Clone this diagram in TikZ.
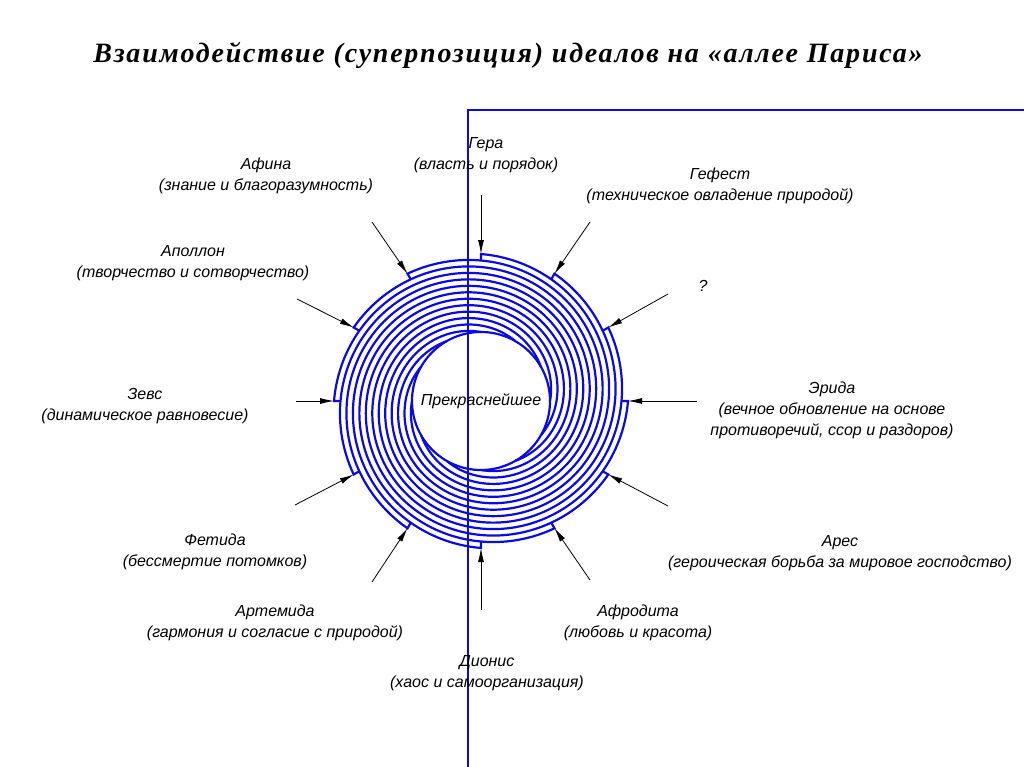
\documentclass[tikz,border=0pt]{standalone}
\usepackage{fontspec}
\setmainfont{Liberation Serif}
\newfontfamily\labfont{Liberation Sans}
\newfontfamily\ttlfont{Liberation Serif}[LetterSpace=6.3]
\usetikzlibrary{arrows.meta}
\definecolor{spblue}{RGB}{10,10,225}
\begin{document}
\begin{tikzpicture}[x=1pt,y=-1pt,
  lab/.style={font=\labfont\itshape\fontsize{16}{21}\selectfont,align=center,inner sep=0pt},
  ttl/.style={font=\ttlfont\bfseries\itshape\fontsize{28}{32}\selectfont,inner sep=0pt},
  spiral/.style={draw=spblue,line width=2.2pt,line join=miter},
  frame/.style={draw=spblue,line width=2pt},
  arr/.style={draw=black,line width=0.8pt,-{Latex[length=14pt,width=6pt]}}]
\useasboundingbox (0,0) rectangle (1024,767);
% title
\node[ttl] (title) at (508,55) {Взаимодействие (суперпозиция) идеалов на «аллее Париса»};
% spiral arms
\foreach \k in {0,...,11}{
  \draw[spiral] ({481+140.5*cos(90-30*\k)},{401-140.5*sin(90-30*\k)})
    -- plot[domain=0:360,samples=121,smooth]
    ({481+(147-0.216667*\x)*cos(90-30*\k-\x)},{401-(147-0.216667*\x)*sin(90-30*\k-\x)});
}
\draw[spiral] (481,401) circle[radius=69];
% frame lines
\draw[frame] (468,767) -- (468,110) -- (1024,110);
% arrow tips
\foreach \k in {0,...,11}{
  \coordinate (t\k) at ({481+147*cos(90-30*\k)},{401-147*sin(90-30*\k)});
}
% arrow starts
\coordinate (a0) at (481,195);
\coordinate (a1) at (590,222);
\coordinate (a2) at (668,294);
\coordinate (a3) at (697,401);
\coordinate (a4) at (668,506);
\coordinate (a5) at (590,580);
\coordinate (a6) at (481,610);
\coordinate (a7) at (372,582);
\coordinate (a8) at (295,505);
\coordinate (a9) at (296,401);
\coordinate (a10) at (297,299);
\coordinate (a11) at (372,222);
\foreach \k in {0,...,11}{ \draw[arr] (a\k) -- (t\k); }
% labels
\node[lab] (gera) at (486,155) {Гера\\(власть и порядок)};
\node[lab] (gefest) at (720,186) {Гефест\\(техническое овладение природой)};
\node[lab] (q) at (703,286) {?};
\node[lab] (erida) at (832,410) {Эрида\\(вечное обновление на основе\\противоречий, ссор и раздоров)};
\node[lab] (ares) at (840,553) {Арес\\(героическая борьба за мировое господство)};
\node[lab] (afrodita) at (638,623) {Афродита\\(любовь и красота)};
\node[lab] (dionis) at (487,673) {Дионис\\(хаос и самоорганизация)};
\node[lab] (artemida) at (275,623) {Артемида\\(гармония и согласие с природой)};
\node[lab] (fetida) at (215,552) {Фетида\\(бессмертие потомков)};
\node[lab] (zevs) at (145,406) {Зевс\\(динамическое равновесие)};
\node[lab] (apollon) at (193,263) {Аполлон\\(творчество и сотворчество)};
\node[lab] (afina) at (266,176) {Афина\\(знание и благоразумность)};
\node[lab] (prekr) at (481,401) {Прекраснейшее};
\end{tikzpicture}
\end{document}
